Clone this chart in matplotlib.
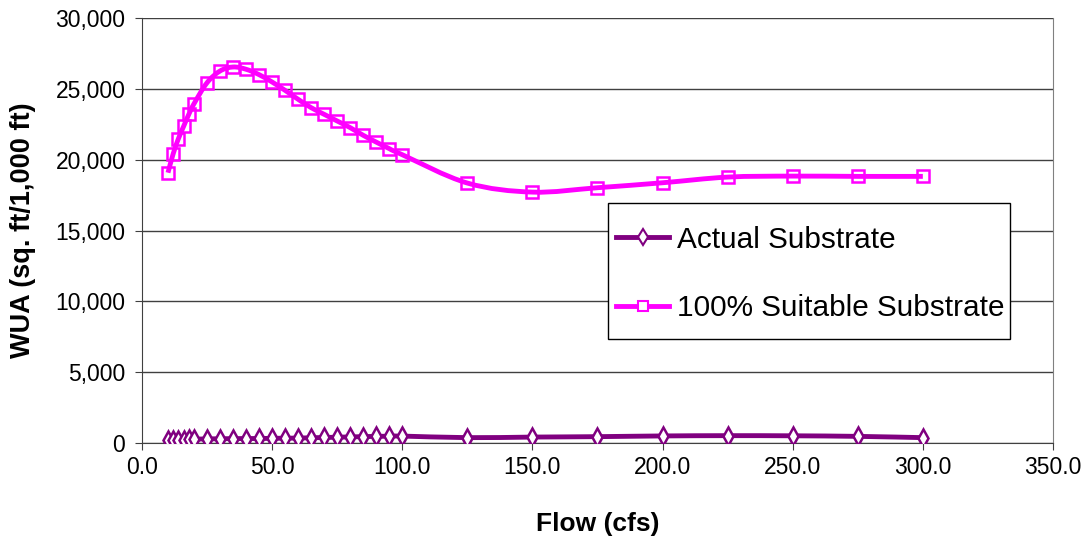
import numpy as np
import matplotlib
matplotlib.use("Agg")
import matplotlib.pyplot as plt
from matplotlib.path import Path
from matplotlib.patches import PathPatch, Rectangle
from matplotlib.lines import Line2D
from matplotlib.ticker import FuncFormatter, MultipleLocator

plt.rcParams["font.family"] = ["Liberation Sans", "DejaVu Sans"]

flow = [10, 12, 14, 16, 18, 20, 25, 30, 35, 40, 45, 50, 55, 60, 65, 70, 75,
        80, 85, 90, 95, 100, 125, 150, 175, 200, 225, 250, 275, 300]

actual = [180, 200, 220, 240, 255, 270, 290, 300, 310, 315, 320, 330, 340,
          350, 370, 390, 410, 430, 450, 470, 480, 490, 380, 420, 450, 500,
          520, 510, 470, 380]

suitable = [19080, 20420, 21480, 22350, 23200, 23950, 25430, 26260, 26540,
            26380, 26000, 25480, 24890, 24260, 23670, 23200, 22730, 22260,
            21720, 21240, 20780, 20350, 18350, 17710, 18020, 18370, 18770,
            18840, 18820, 18820]

labels = ["Actual Substrate", "100% Suitable Substrate"]


def smooth_path(x, y):
    # excel style smoothed line: bezier segments with catmull-rom handles
    pts = np.column_stack([x, y]).astype(float)
    n = len(pts)
    verts = [pts[0]]
    codes = [Path.MOVETO]
    for i in range(n - 1):
        p0 = pts[i - 1] if i > 0 else pts[i]
        p1 = pts[i]
        p2 = pts[i + 1]
        p3 = pts[i + 2] if i + 2 < n else pts[i + 1]
        c1 = p1 + (p2 - p0) / 6.0
        c2 = p2 - (p3 - p1) / 6.0
        verts += [c1, c2, p2]
        codes += [Path.CURVE4] * 3
    return Path(verts, codes)


fig = plt.figure(figsize=(10.87, 5.37), dpi=100)
ax = fig.add_axes([0.1306, 0.175, 0.8381, 0.7915])

purple = "#800080"
pink = "#FF00FF"

ax.add_patch(PathPatch(smooth_path(flow, actual), facecolor="none",
                       edgecolor=purple, lw=3.5, zorder=3))
ax.plot(flow, actual, ls="none", marker="d", ms=8.8, mfc="white",
        mec=purple, mew=1.8, zorder=4)

ax.add_patch(PathPatch(smooth_path(flow, suitable), facecolor="none",
                       edgecolor=pink, lw=3.5, zorder=3))
ax.plot(flow, suitable, ls="none", marker="s", ms=9, mfc="none",
        mec=pink, mew=1.8, zorder=4)

ax.set_xlim(0, 350)
ax.set_ylim(0, 30000)
ax.xaxis.set_major_locator(MultipleLocator(50))
ax.yaxis.set_major_locator(MultipleLocator(5000))
ax.xaxis.set_major_formatter(FuncFormatter(lambda v, p: f"{v:.1f}"))
ax.yaxis.set_major_formatter(FuncFormatter(lambda v, p: f"{v:,.0f}"))

ax.grid(axis="y", color="#404040", lw=1)
ax.set_axisbelow(True)
ax.spines["top"].set_visible(False)
ax.spines["right"].set_color("#808080")
ax.spines["left"].set_color("#404040")
ax.spines["bottom"].set_color("#404040")
ax.tick_params(direction="out", length=5, color="#404040", labelsize=16.5)
ax.tick_params(axis="x", pad=4)
ax.tick_params(axis="y", pad=7)

ax.set_xlabel("Flow (cfs)", fontsize=19, fontweight="bold", labelpad=24)
ax.set_ylabel("WUA (sq. ft/1,000 ft)", fontsize=19.5, fontweight="bold",
              labelpad=14)

# legend box drawn separately (excel pads it more vertically)
ax.add_patch(Rectangle((0.5115, 0.2447), 0.441, 0.32, transform=ax.transAxes,
                       facecolor="white", edgecolor="black", lw=1, zorder=5))
handles = [
    Line2D([], [], color=purple, lw=3.5, marker="d", ms=8, mfc="white",
           mec=purple, mew=1.5),
    Line2D([], [], color=pink, lw=3.5, marker="s", ms=7, mfc="white",
           mec=pink, mew=1.5),
]
leg = ax.legend(handles, labels, loc="center left",
                bbox_to_anchor=(0.5203, 0.398), fontsize=21.4, frameon=False,
                handlelength=1.8, handletextpad=0.24, labelspacing=1.35,
                borderpad=0, borderaxespad=0)
leg.set_zorder(6)

fig.savefig("out.png", dpi=100)
